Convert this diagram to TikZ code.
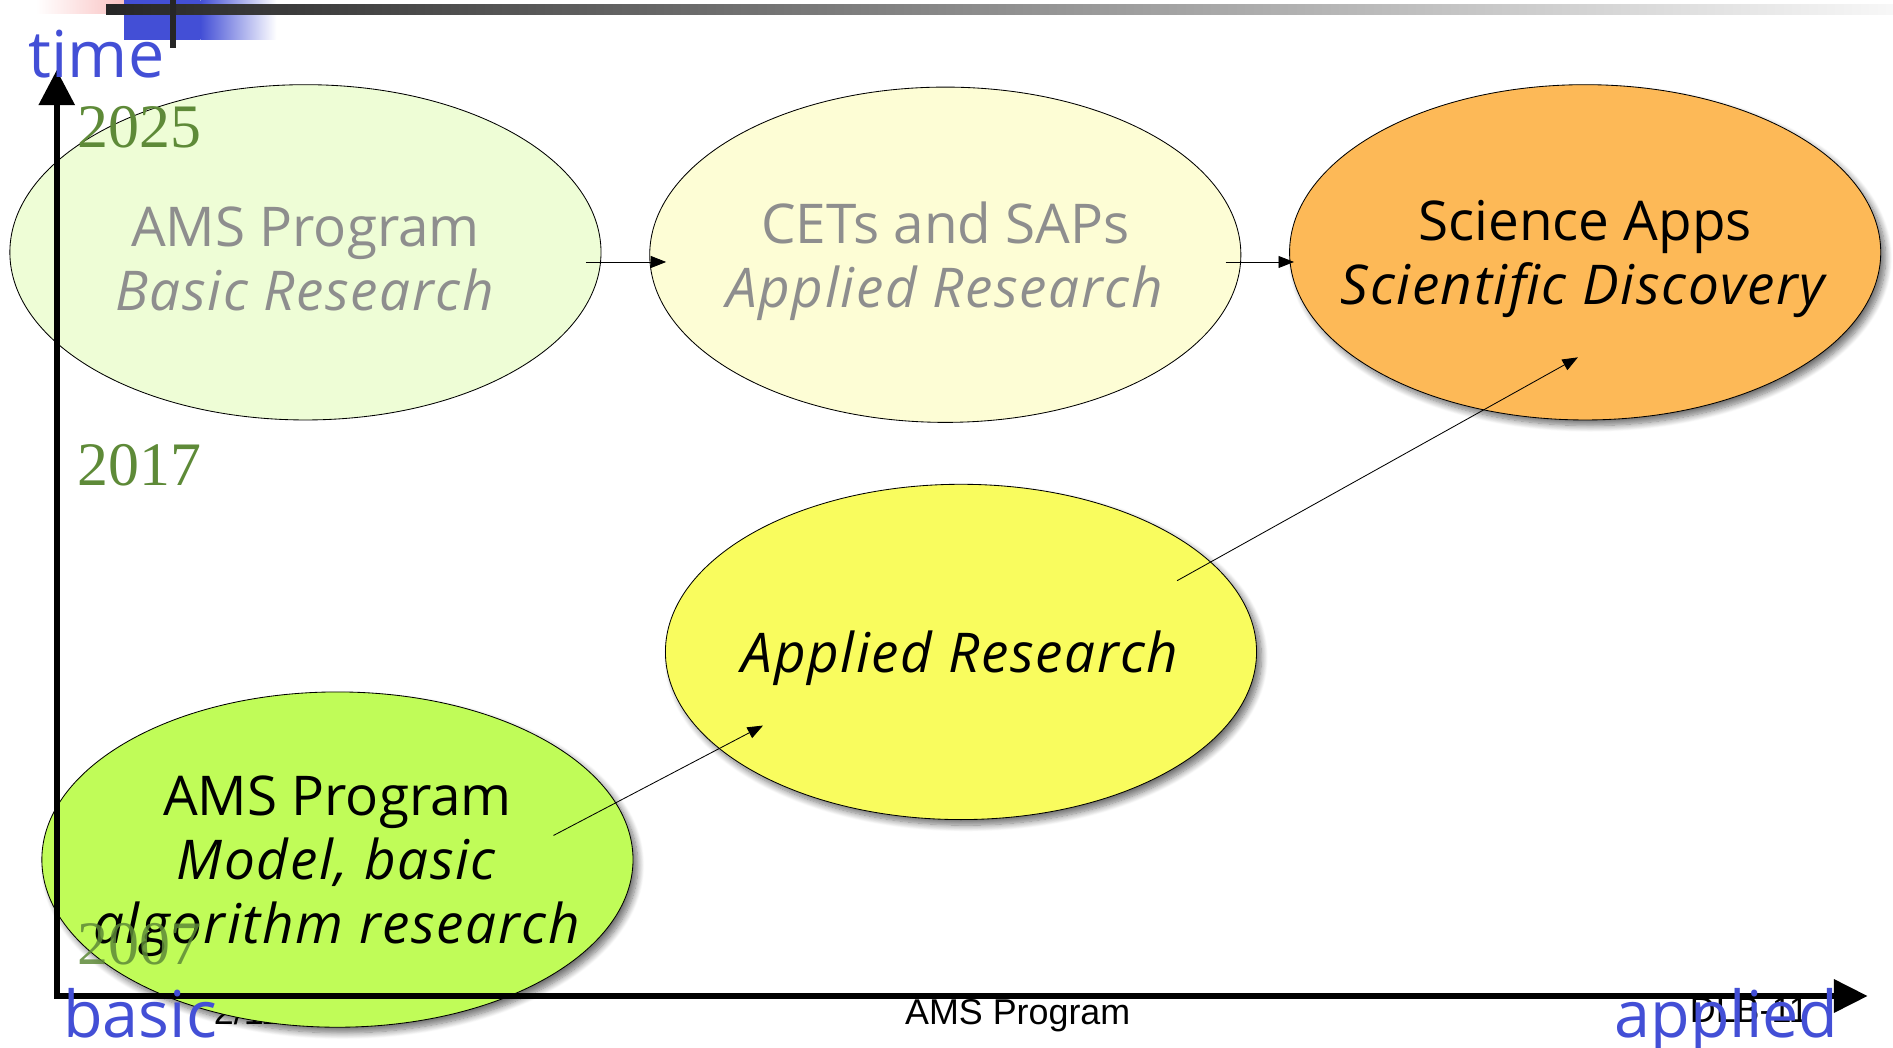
\documentclass[tikz,border=0pt]{standalone}
\usepackage{fontspec}
\setmainfont{Open Sans}[ItalicFeatures={LetterSpace=3}]
\newfontfamily\yearfont{Liberation Serif}
\newfontfamily\footfont{Liberation Sans}
\usetikzlibrary{shapes.geometric,arrows.meta,shadows.blur}
\definecolor{axisblue}{RGB}{67,79,214}
\definecolor{yeargreen}{RGB}{94,138,56}
\definecolor{basicgreen}{RGB}{238,253,214}
\definecolor{paleyellow}{RGB}{253,253,213}
\definecolor{sciorange}{RGB}{253,185,87}
\definecolor{appyellow}{RGB}{249,252,94}
\definecolor{limegreen}{RGB}{192,252,88}
\definecolor{fadegray}{RGB}{142,142,142}
\definecolor{barpink}{RGB}{248,176,176}
\tikzset{
 phase/.style={ellipse,draw,line width=1.2pt,inner sep=0pt,minimum width=841pt,minimum height=477pt},
 lifted/.style={blur shadow={shadow xshift=7pt,shadow yshift=-8pt,shadow blur radius=9pt,shadow blur steps=10,shadow opacity=55}},
 lbl/.style={align=center,yshift=-9pt,font=\fontsize{78}{91}\selectfont},
 flow/.style={line width=1.2pt,-{Triangle[length=22pt,width=17pt]}},
 axis/.style={line width=8pt,{Triangle[length=50pt,width=50pt]}-{Triangle[length=48pt,width=46pt]}},
 year/.style={anchor=base west,text=yeargreen,font=\yearfont\fontsize{88}{88}\selectfont},
 dirlabel/.style={anchor=base,text=axisblue,font=\fontsize{92}{92}\selectfont},
 foot/.style={anchor=base,font=\footfont\fontsize{51}{51}\selectfont}
}
\begin{document}
\begin{tikzpicture}[x=0.060365cm,y=-0.060365cm]
 \useasboundingbox (0,0) rectangle (1568,868);
 % slide header
 \shade[left color=white,right color=barpink] (30,0) rectangle (127,11);
 \fill[axisblue] (103,0) rectangle (166,33);
 \shade[left color=axisblue,right color=white] (166,0) rectangle (229,33);
 \shade[left color=black!85,right color=black!3] (88,4) rectangle (1568,12);
 \fill[black!85] (141,0) rectangle (146,40);
 % slide footer
 \node[foot] (pageno) at (205,849) {2/11};
 \node[foot] (title) at (843,849) {AMS Program};
 \node[foot] (slideid) at (1449,847) {DLB-11};
 % phases
 \node[phase,fill=basicgreen,label={[lbl,text=fadegray]center:AMS Program\\\textit{Basic Research}}] (basic) at (253,209) {};
 \node[phase,fill=paleyellow,label={[lbl,text=fadegray]center:CETs and SAPs\\\textit{Applied Research}}] (cets) at (783,211) {};
 \node[phase,lifted,fill=sciorange,label={[lbl]center:Science Apps\\\textit{Scientific Discovery}}] (sci) at (1313,209) {};
 \node[phase,lifted,fill=appyellow,label={[lbl]center:\textit{Applied Research}}] (applied) at (796,540) {};
 \node[phase,lifted,fill=limegreen,label={[lbl]center:{AMS Program\\\textit{Model, basic}\\\textit{algorithm research}}}] (model) at (279.5,712) {};
 % transitions
 \draw[flow] ([shift={(-13,8)}]basic.east) -- ([shift={(14,6)}]cets.west);
 \draw[flow] ([shift={(-13,6)}]cets.east) -- ([shift={(4,8)}]sci.west);
 \draw[flow] ([shift={(179,-20)}]model.center) -- ([shift={(-164,61)}]applied.center);
 \draw[flow] ([shift={(179,-59)}]applied.center) -- ([shift={(-6,87)}]sci.center);
 % axes
 \coordinate (origin) at (47,825);
 \coordinate (ytip) at (47,58);
 \coordinate (xtip) at (1547,825);
 \draw[axis] (ytip) -- (origin) -- (xtip);
 \node[year] (y2025) at (62,122) {2025};
 \node[year] (y2017) at (62,402) {2017};
 \node[year,opacity=0.85] (y2007) at (62,799) {2007};
 \node[dirlabel] (time) at (80,64) {time};
 \node[dirlabel] (basiclbl) at (116,859) {basic};
 \node[dirlabel] (appliedlbl) at (1430,859) {applied};
\end{tikzpicture}
\end{document}
